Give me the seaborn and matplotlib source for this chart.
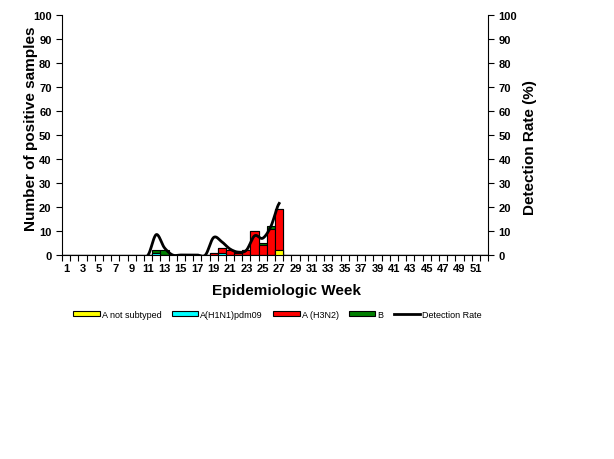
import numpy as np
import pandas as pd
import matplotlib
matplotlib.use("Agg")
import matplotlib.pyplot as plt
import seaborn as sns
from matplotlib.patches import Patch
from matplotlib.lines import Line2D

# weekly data (weeks 1-52)
weeks = list(range(1, 53))
a_not_subtyped = {27: 2}
a_h1n1 = {12: 1, 20: 1}
a_h3n2 = {19: 1, 20: 2, 21: 2, 22: 1, 23: 2, 24: 10, 25: 4, 26: 11, 27: 17}
b_flu = {12: 1, 13: 2, 25: 1, 26: 1}
rate_weeks = list(range(11, 28))
detection_rate = [0, 8.5, 3, 0, 0, 0, 0, 0, 7.3, 5.5, 2.5, 1.2, 2, 8, 7, 12, 21.5]

series_names = ["A not subtyped", "A(H1N1)pdm09", "A (H3N2)", "B"]
series_data = [a_not_subtyped, a_h1n1, a_h3n2, b_flu]
series_colors = ["#FFFF00", "#00FFFF", "#FF0000", "#008000"]

df = pd.DataFrame({"week": weeks})
for name, d in zip(series_names, series_data):
    df[name] = [d.get(w, 0) for w in weeks]
df["week_lbl"] = df["week"].astype(str)

plt.rcParams['font.family'] = ['Liberation Sans', 'DejaVu Sans']

fig = plt.figure(figsize=(6.14, 4.6), dpi=100)
ax = fig.add_axes([0.101, 0.4435, 0.694, 0.5215])

# stacked bars: draw cumulative totals from the top series down
for k in range(len(series_names) - 1, -1, -1):
    cum = df[series_names[:k + 1]].sum(axis=1)
    sns.barplot(x=df["week_lbl"], y=cum, color=series_colors[k], width=1.0,
                edgecolor="black", linewidth=0.8, saturation=1, ax=ax, zorder=3)

ax.set_xlim(-0.5, 51.5)
ax.set_ylim(0, 100)
ax.set_yticks(range(0, 101, 10))
ax.set_xticks(np.arange(-0.5, 52, 1), minor=False)
ax.set_xticklabels([])
ax.set_xticks(np.arange(0, 52, 2), minor=True)
ax.set_xticklabels([str(w) for w in weeks[::2]], minor=True)
ax.tick_params(axis="x", which="major", direction="out", length=4, width=0.8)
ax.tick_params(axis="x", which="minor", length=0, pad=6, labelsize=8)
ax.tick_params(axis="y", direction="out", length=4, width=0.8, labelsize=8)
for lab in ax.get_xticklabels(minor=True) + ax.get_yticklabels():
    lab.set_fontweight("bold")
for s in ["top", "right"]:
    ax.spines[s].set_visible(False)
for s in ["left", "bottom"]:
    ax.spines[s].set_linewidth(0.8)
ax.set_xlabel("Epidemiologic Week", fontsize=11, fontweight="bold")
ax.set_ylabel("Number of positive samples", fontsize=11, fontweight="bold")
ax.xaxis.set_label_coords(0.526, -0.117)
ax.yaxis.set_label_coords(-0.056, 0.53)

# detection rate on secondary axis, smoothed like the original chart
ax2 = ax.twinx()
ax2.set_ylim(0, 100)
ax2.set_yticks(range(0, 101, 10))
ax2.tick_params(axis="y", direction="out", length=4, width=0.8, labelsize=8)
for lab in ax2.get_yticklabels():
    lab.set_fontweight("bold")
for s in ["top", "left", "bottom"]:
    ax2.spines[s].set_visible(False)
ax2.spines["right"].set_linewidth(0.8)
ax2.set_ylabel("Detection Rate (%)", fontsize=11, fontweight="bold")
ax2.yaxis.set_label_coords(1.082, 0.45)

xs = np.array(rate_weeks, dtype=float) - 1
ys = np.array(detection_rate, dtype=float)
px = np.concatenate([[2 * xs[0] - xs[1]], xs, [2 * xs[-1] - xs[-2]]])
py = np.concatenate([[ys[0]], ys, [ys[-1]]])
cx, cy = [], []
t = np.linspace(0, 1, 20)
for i in range(1, len(px) - 2):
    m0 = (py[i + 1] - py[i - 1]) / 2
    m1 = (py[i + 2] - py[i]) / 2
    h00 = 2 * t**3 - 3 * t**2 + 1
    h10 = t**3 - 2 * t**2 + t
    h01 = -2 * t**3 + 3 * t**2
    h11 = t**3 - t**2
    cx.extend(px[i] + t * (px[i + 1] - px[i]))
    cy.extend(h00 * py[i] + h10 * m0 + h01 * py[i + 1] + h11 * m1)
sns.lineplot(x=cx, y=cy, color="black", linewidth=2, ax=ax2, sort=False)
ax2.set_xlim(-0.5, 51.5)

handles = [Patch(facecolor=c, edgecolor="black", linewidth=0.8, label=n)
           for n, c in zip(series_names, series_colors)]
handles.append(Line2D([], [], color="black", linewidth=2, label="Detection Rate"))
fig.legend(handles=handles, loc="center", bbox_to_anchor=(0.452, 0.315), ncol=5,
           frameon=False, fontsize=6.5, handlelength=2.95, handleheight=0.45,
           columnspacing=1.1, handletextpad=0.25)

fig.savefig("out.png", dpi=100)
